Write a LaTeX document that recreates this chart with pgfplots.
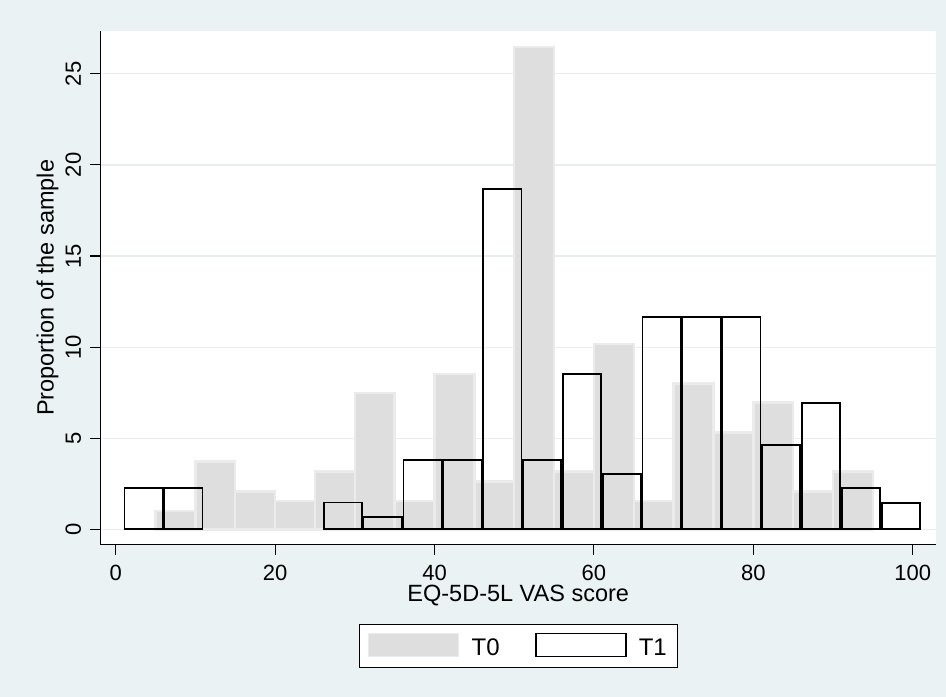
\documentclass[border=0pt]{standalone}
\usepackage{fontspec}
\setmainfont{Liberation Sans}
\usepackage{pgfplots}
\pgfplotsset{compat=1.18}
\definecolor{bgc}{HTML}{EAF2F3}
\definecolor{gridc}{HTML}{E6EEF0}
\definecolor{tzfill}{HTML}{DEDEDE}
\definecolor{tzdraw}{HTML}{EBEBEB}
\begin{document}
\begin{tikzpicture}
\fill[bgc] (0,0) rectangle (946bp,697bp);
\begin{axis}[
  at={(100.5bp,152.5bp)}, anchor=south west,
  scale only axis, width=835.5bp, height=513.5bp,
  xmin=-1.91, xmax=102.92, ymin=-0.83, ymax=27.35,
  axis x line*=bottom, axis y line*=left,
  axis line style={black, line width=1.2bp},
  axis background/.style={fill=white},
  xtick={0,20,...,100}, ytick={0,5,...,25},
  tick align=outside, major tick length=10bp,
  tick style={black, line width=1.1bp},
  ymajorgrids, grid style={gridc, line width=1.3bp},
  /pgf/number format/assume math mode=true,
  tick label style={font=\fontsize{22bp}{26bp}\selectfont},
  xticklabel style={anchor=base, yshift=-25.5bp},
  yticklabel style={xshift=-9.5bp, rotate=90, anchor=base},
  label style={font=\fontsize{23.5bp}{28bp}\selectfont},
  xlabel={EQ-5D-5L VAS score},
  xlabel style={at={(axis description cs:0.5,-0.1114)}, anchor=base},
  ylabel={Proportion of the sample},
  ylabel style={at={(axis description cs:-0.05625,0.5)}, anchor=base},
  legend style={at={(axis description cs:0.5,-0.197)}, anchor=center,
    legend columns=2, draw=black, line width=1.1bp, fill=white,
    inner xsep=8.5bp, inner ysep=8.5bp,
    font=\fontsize{24bp}{28bp}\selectfont,
    /tikz/every even column/.append style={column sep=33.4bp}},
]
\addplot[ybar, bar width=5, bar shift=0pt, fill=tzfill, draw=tzdraw, line width=2.4bp,
  legend image code/.code={\draw[fill=tzfill, draw=tzdraw, line width=1.5bp] (0bp,-9bp) rectangle (90bp,14bp); \path (100bp,0bp);}]
  coordinates {(7.5,1.02)(12.5,3.72)(17.5,2.08)(22.5,1.55)(27.5,3.18)(32.5,7.50)(37.5,1.55)(42.5,8.54)(47.5,2.62)(52.5,26.47)(57.5,3.18)(62.5,10.16)(67.5,1.55)(72.5,8.00)(77.5,5.32)(82.5,6.96)(87.5,2.08)(92.5,3.18)};
\addlegendentry{T0}
\addplot[ybar, bar width=4.8, bar shift=0pt, draw=black, fill=none, line width=1.8bp,
  legend image code/.code={\draw[black, line width=1.8bp] (0bp,-9bp) rectangle (90bp,14bp); \path (100bp,0bp);}]
  coordinates {(3.5,2.25)(8.5,2.25)(28.5,1.48)(33.5,0.68)(38.5,3.80)(43.5,3.80)(48.5,18.69)(53.5,3.80)(58.5,8.52)(63.5,3.02)(68.5,11.67)(73.5,11.67)(78.5,11.67)(83.5,4.61)(88.5,6.95)(93.5,2.25)(98.5,1.46)};
\addlegendentry{T1}
\end{axis}
\end{tikzpicture}
\end{document}
